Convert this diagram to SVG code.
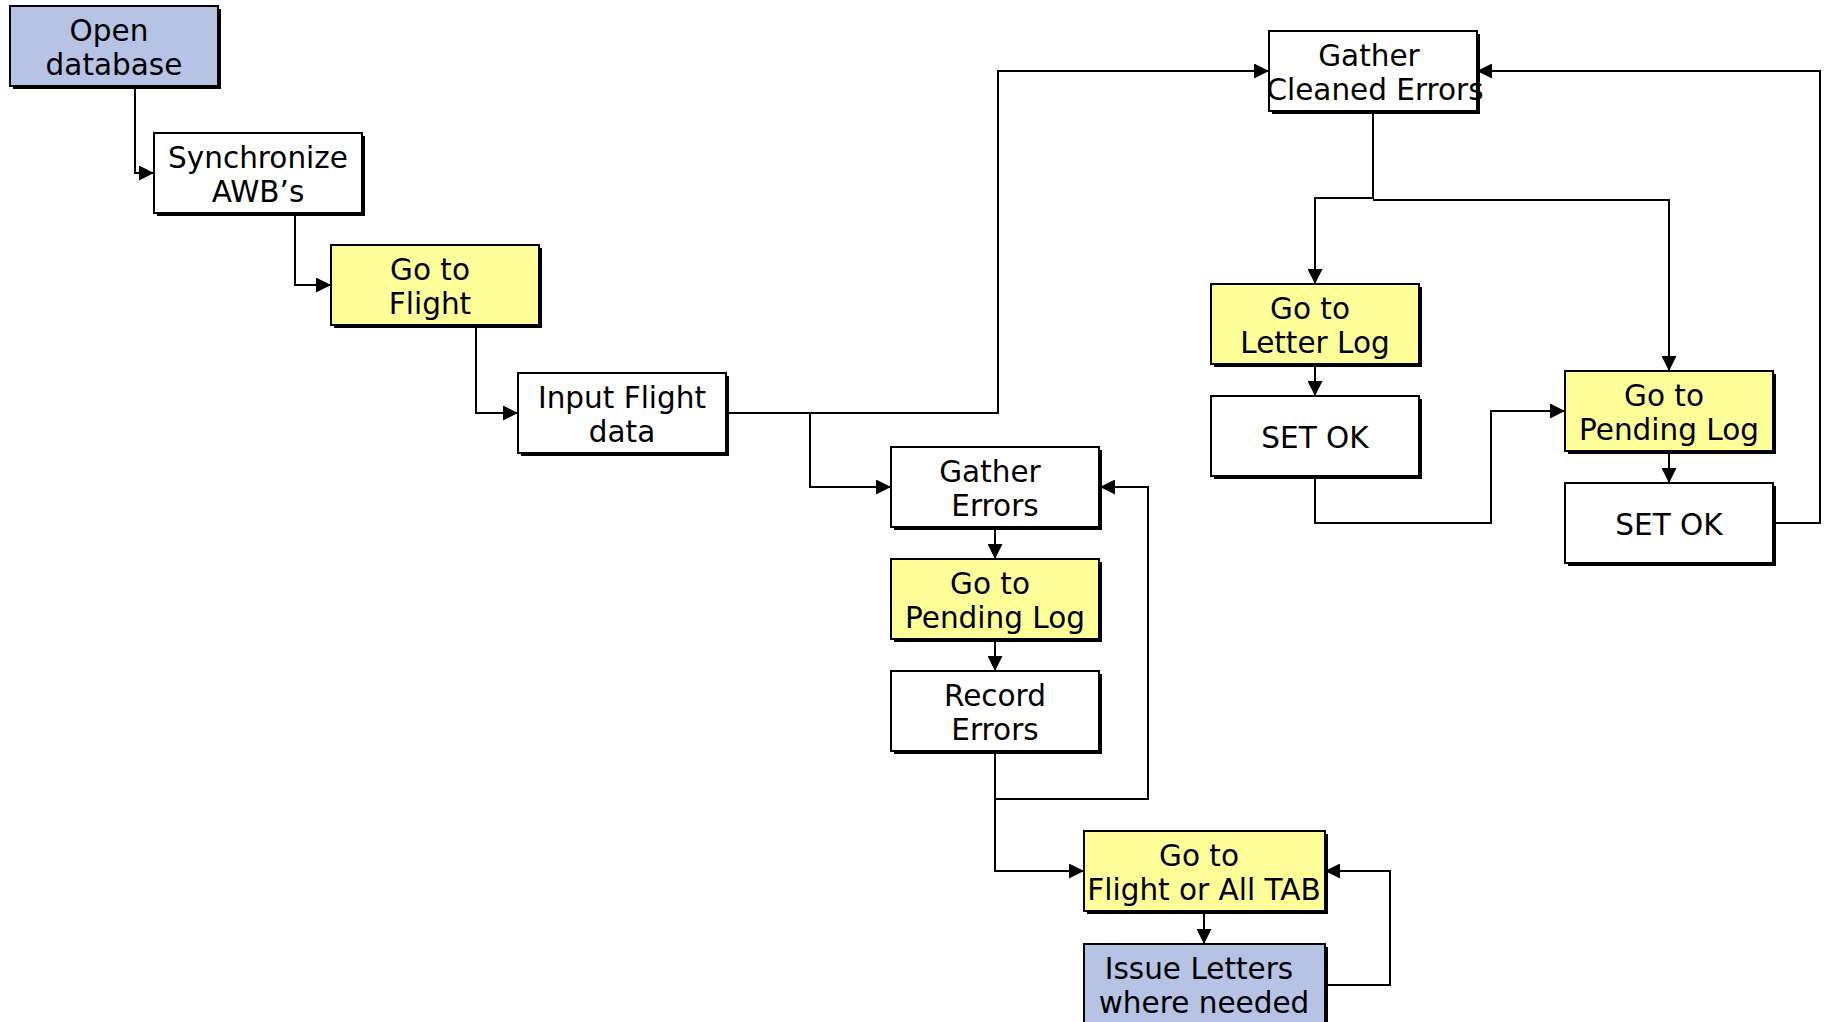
<svg xmlns="http://www.w3.org/2000/svg" width="1827" height="1022" viewBox="0 0 1827 1022">
<style>
.shadow{fill:#000}
.box{stroke:#000;stroke-width:2}
.white{fill:#fff}
.yellow{fill:#ffff99}
.blue{fill:#b6c3e5}
text{font-family:"DejaVu Sans",Verdana,sans-serif;font-size:29.5px;fill:#000;text-anchor:middle}
.conn path{fill:none;stroke:#000;stroke-width:2}
</style>
<defs>
<marker id="arr" markerUnits="userSpaceOnUse" markerWidth="15" markerHeight="15" refX="15" refY="7.5" orient="auto">
<path d="M0,0 L15,7.5 L0,15 z" fill="#000"/>
</marker>
</defs>
<rect width="1827" height="1022" fill="#fff"/>
<g class="conn">
<path d="M135,86 V173 H154" marker-end="url(#arr)"/>
<path d="M295,213 V285 H331" marker-end="url(#arr)"/>
<path d="M476,325 V413 H518" marker-end="url(#arr)"/>
<path d="M727,413 H998 V71 H1269" marker-end="url(#arr)"/>
<path d="M810,413 V487 H891" marker-end="url(#arr)"/>
<path d="M995,528 V559" marker-end="url(#arr)"/>
<path d="M995,640 V671" marker-end="url(#arr)"/>
<path d="M995,752 V799 H1148 V487 H1100" marker-end="url(#arr)"/>
<path d="M995,799 V871 H1084" marker-end="url(#arr)"/>
<path d="M1204,911 V944" marker-end="url(#arr)"/>
<path d="M1325,985 H1390 V871 H1325" marker-end="url(#arr)"/>
<path d="M1373,112 V198 H1315 V284" marker-end="url(#arr)"/>
<path d="M1373,200 H1669 V371" marker-end="url(#arr)"/>
<path d="M1315,364 V396" marker-end="url(#arr)"/>
<path d="M1315,477 V523 H1491 V411 H1565" marker-end="url(#arr)"/>
<path d="M1669,451 V483" marker-end="url(#arr)"/>
<path d="M1773,523 H1820 V71 H1477" marker-end="url(#arr)"/>
</g>
<g id="open-database">
<rect class="shadow" x="13" y="9" width="208" height="80"/>
<rect class="box blue" x="10" y="6" width="208" height="80"/>
<text x="109" y="41">Open</text>
<text x="114" y="75">database</text>
</g>
<g id="synchronize">
<rect class="shadow" x="157" y="136" width="208" height="80"/>
<rect class="box white" x="154" y="133" width="208" height="80"/>
<text x="258" y="168">Synchronize</text>
<text x="258" y="202">AWB’s</text>
</g>
<g id="go-to-flight">
<rect class="shadow" x="334" y="248" width="208" height="80"/>
<rect class="box yellow" x="331" y="245" width="208" height="80"/>
<text x="430" y="280">Go to</text>
<text x="430" y="314">Flight</text>
</g>
<g id="input-flight-data">
<rect class="shadow" x="521" y="376" width="208" height="80"/>
<rect class="box white" x="518" y="373" width="208" height="80"/>
<text x="622" y="408">Input Flight</text>
<text x="622" y="442">data</text>
</g>
<g id="gather-errors">
<rect class="shadow" x="894" y="450" width="208" height="80"/>
<rect class="box white" x="891" y="447" width="208" height="80"/>
<text x="990" y="482">Gather</text>
<text x="995" y="516">Errors</text>
</g>
<g id="pending-log-mid">
<rect class="shadow" x="894" y="562" width="208" height="80"/>
<rect class="box yellow" x="891" y="559" width="208" height="80"/>
<text x="990" y="594">Go to</text>
<text x="995" y="628">Pending Log</text>
</g>
<g id="record-errors">
<rect class="shadow" x="894" y="674" width="208" height="80"/>
<rect class="box white" x="891" y="671" width="208" height="80"/>
<text x="995" y="706">Record</text>
<text x="995" y="740">Errors</text>
</g>
<g id="flight-or-all-tab">
<rect class="shadow" x="1087" y="834" width="241" height="80"/>
<rect class="box yellow" x="1084" y="831" width="241" height="80"/>
<text x="1199" y="866">Go to</text>
<text x="1204" y="900">Flight or All TAB</text>
</g>
<g id="issue-letters">
<rect class="shadow" x="1087" y="947" width="241" height="80"/>
<rect class="box blue" x="1084" y="944" width="241" height="80"/>
<text x="1199" y="979">Issue Letters</text>
<text x="1204" y="1013">where needed</text>
</g>
<g id="gather-cleaned-errors">
<rect class="shadow" x="1272" y="34" width="208" height="80"/>
<rect class="box white" x="1269" y="31" width="208" height="80"/>
<text x="1369" y="66">Gather</text>
<text x="1375" y="100">Cleaned Errors</text>
</g>
<g id="letter-log">
<rect class="shadow" x="1214" y="287" width="208" height="80"/>
<rect class="box yellow" x="1211" y="284" width="208" height="80"/>
<text x="1310" y="319">Go to</text>
<text x="1315" y="353">Letter Log</text>
</g>
<g id="set-ok-1">
<rect class="shadow" x="1214" y="399" width="208" height="80"/>
<rect class="box white" x="1211" y="396" width="208" height="80"/>
<text x="1315" y="448">SET OK</text>
</g>
<g id="pending-log-right">
<rect class="shadow" x="1568" y="374" width="208" height="80"/>
<rect class="box yellow" x="1565" y="371" width="208" height="80"/>
<text x="1664" y="406">Go to</text>
<text x="1669" y="440">Pending Log</text>
</g>
<g id="set-ok-2">
<rect class="shadow" x="1568" y="486" width="208" height="80"/>
<rect class="box white" x="1565" y="483" width="208" height="80"/>
<text x="1669" y="535">SET OK</text>
</g>
</svg>
